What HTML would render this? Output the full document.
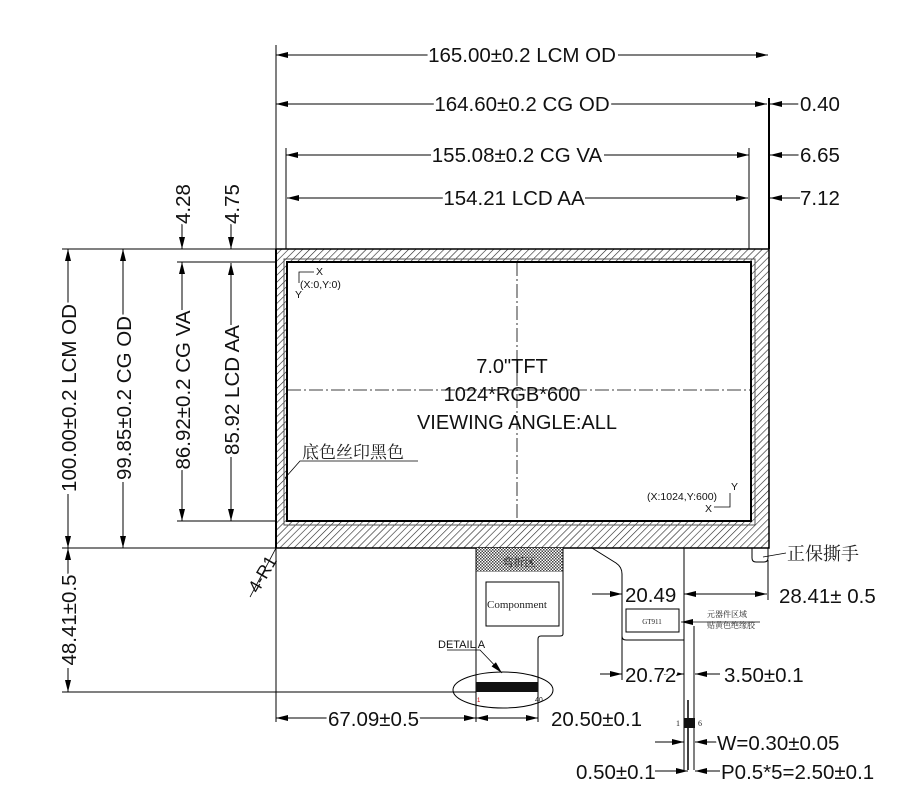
<!DOCTYPE html>
<html><head><meta charset="utf-8"><style>
html,body{margin:0;padding:0;background:#fff;}
svg{display:block;font-family:"Liberation Sans","Noto Sans CJK SC",sans-serif;}
.d{font-size:20.5px;fill:#111;stroke:#fff;stroke-width:5px;paint-order:stroke;}
.s{font-family:"Liberation Serif","Noto Serif CJK SC",serif;}
</style></head><body>
<svg width="909" height="800" viewBox="0 0 909 800" xmlns="http://www.w3.org/2000/svg">
<defs>
<pattern id="h" width="5" height="5" patternUnits="userSpaceOnUse" patternTransform="rotate(45)">
<rect width="5" height="5" fill="#fff"/><line x1="0" y1="0" x2="0" y2="5" stroke="#222" stroke-width="1.2"/></pattern>
<pattern id="dt" width="3" height="3" patternUnits="userSpaceOnUse"><rect width="3" height="3" fill="#fff"/><rect width="1.5" height="1.5" fill="#444"/><rect x="1.5" y="1.5" width="1.5" height="1.5" fill="#444"/></pattern>
<marker id="a" viewBox="0 0 12 6" refX="12" refY="3" markerWidth="13" markerHeight="6" orient="auto-start-reverse" markerUnits="userSpaceOnUse"><path d="M0,0L12,3L0,6z" fill="#000"/></marker>
</defs>
<g stroke="#000" stroke-width="1" fill="none">
<line x1="276" y1="45" x2="276" y2="722"/>
<line x1="286" y1="148" x2="286" y2="262"/>
<line x1="769" y1="98" x2="769" y2="249" stroke-width="2"/>
<line x1="749" y1="148" x2="749" y2="262"/>
<line x1="62" y1="249" x2="276" y2="249"/>
<line x1="177" y1="262" x2="276" y2="262"/>
<line x1="177" y1="521" x2="276" y2="521"/>
<line x1="62" y1="548" x2="276" y2="548"/>
<line x1="62" y1="692" x2="476" y2="692"/>
<line x1="276" y1="55" x2="768" y2="55" marker-start="url(#a)" marker-end="url(#a)"/>
<line x1="276" y1="104" x2="767" y2="104" marker-start="url(#a)" marker-end="url(#a)"/>
<line x1="800" y1="104" x2="770" y2="104" marker-end="url(#a)"/>
<line x1="286" y1="155" x2="749" y2="155" marker-start="url(#a)" marker-end="url(#a)"/>
<line x1="800" y1="155" x2="770" y2="155" marker-end="url(#a)"/>
<line x1="287" y1="198" x2="748" y2="198" marker-start="url(#a)" marker-end="url(#a)"/>
<line x1="800" y1="198" x2="770" y2="198" marker-end="url(#a)"/>
<line x1="68" y1="249" x2="68" y2="548" marker-start="url(#a)" marker-end="url(#a)"/>
<line x1="123" y1="249" x2="123" y2="548" marker-start="url(#a)" marker-end="url(#a)"/>
<line x1="182" y1="215" x2="182" y2="249" marker-end="url(#a)"/>
<line x1="182" y1="262" x2="182" y2="521" marker-start="url(#a)" marker-end="url(#a)"/>
<line x1="231" y1="215" x2="231" y2="249" marker-end="url(#a)"/>
<line x1="231" y1="263" x2="231" y2="521" marker-start="url(#a)" marker-end="url(#a)"/>
<line x1="68" y1="548" x2="68" y2="692" marker-start="url(#a)" marker-end="url(#a)"/>
</g>
<rect x="276" y="249" width="493" height="299" fill="url(#h)" stroke="#000" stroke-width="1.5"/>
<rect x="284" y="259" width="471" height="266" fill="none" stroke="#555" stroke-width="1"/>
<rect x="287" y="262" width="464" height="259" fill="#fff" stroke="#000" stroke-width="2"/>
<line x1="276" y1="249" x2="276" y2="548" stroke="#000" stroke-width="2"/>
<g stroke="#000" stroke-width="0.8" stroke-dasharray="14,3,2,3">
<line x1="517" y1="262" x2="517" y2="521"/><line x1="287" y1="390" x2="751" y2="390"/></g>
<g font-size="20" fill="#111" text-anchor="middle">
<text x="512" y="373">7.0"TFT</text><text x="512" y="401">1024*RGB*600</text><text x="517" y="429">VIEWING ANGLE:ALL</text></g>
<g stroke="#000" stroke-width="0.8" fill="none">
<polyline points="299,283 299,272 314,272"/><polyline points="730,493 730,507 714,507"/></g>
<g font-size="10.5" fill="#111"><text x="316" y="275">X</text><text x="300" y="288">(X:0,Y:0)</text><text x="295" y="298">Y</text>
<text x="647" y="500">(X:1024,Y:600)</text><text x="731" y="490">Y</text><text x="705" y="512">X</text></g>
<text x="302" y="458" font-size="17" class="s" fill="#222">底色丝印黑色</text>
<g stroke="#000" stroke-width="0.8" fill="none"><polyline points="418,461 300,461 285,478"/>
<line x1="276" y1="548" x2="250" y2="597"/></g>
<text transform="translate(258,594) rotate(-60)" font-size="18" fill="#111">4-R1</text>
<path d="M752,548 V558 Q752,562 756,562 H764 Q768,562 768,558 V548" fill="none" stroke="#000"/>
<line x1="763" y1="557" x2="786" y2="553" stroke="#000" stroke-width="0.8"/>
<text x="787" y="560" font-size="18" class="s" fill="#222">正保撕手</text>
<rect x="476" y="548" width="87" height="24" fill="url(#dt)"/>
<text x="519" y="566" font-size="11" class="s" text-anchor="middle" fill="#222">弯折区</text>
<path d="M476,548 V692 M563,548 V634 Q563,636 560,636 H541 Q538,636 538,639 V692" fill="none" stroke="#000"/>
<rect x="486" y="582" width="73" height="44" fill="none" stroke="#000"/>
<text x="487" y="608" font-size="11" class="s" fill="#222">Componment</text>
<rect x="476" y="682" width="62" height="10" fill="#111"/>
<text x="477" y="702" font-size="6" fill="#c00">1</text><text x="535" y="702" font-size="7" fill="#222">40</text>
<ellipse cx="503" cy="690" rx="50" ry="18" fill="none" stroke="#000"/>
<text x="438" y="648" font-size="11" fill="#111">DETAIL  A</text>
<polyline points="447,650 480,650 502,673" fill="none" stroke="#000" stroke-width="0.8" marker-end="url(#a)"/>
<path d="M592,548 L616,563 Q622,567 622,574 V636 Q622,640 626,640 H684 M684,548 V770" fill="none" stroke="#000"/>
<line x1="694" y1="626" x2="694" y2="770" stroke="#000"/>
<line x1="688" y1="700" x2="688" y2="770" stroke="#000" stroke-width="1.5"/>
<rect x="626" y="609" width="53" height="23" fill="none" stroke="#000"/>
<text x="652" y="624" font-size="7" class="s" text-anchor="middle" fill="#222">GT911</text>
<line x1="760" y1="622" x2="681" y2="622" stroke="#000" stroke-width="0.8" marker-end="url(#a)"/>
<text x="707" y="617" font-size="8" class="s" fill="#222">元器件区域</text>
<text x="707" y="628" font-size="8" class="s" fill="#222">贴黄色绝缘胶</text>
<rect x="684" y="718" width="11" height="10" fill="#111"/>
<text x="676" y="726" font-size="8" class="s" fill="#222">1</text><text x="698" y="726" font-size="8" class="s" fill="#222">6</text>
<g stroke="#000" stroke-width="1" fill="none">
<line x1="622" y1="574" x2="622" y2="680"/>
<line x1="768" y1="560" x2="768" y2="600"/>
<line x1="538" y1="692" x2="538" y2="722"/><line x1="476" y1="692" x2="476" y2="722"/>
<line x1="592" y1="594" x2="622" y2="594" marker-end="url(#a)"/>
<line x1="684" y1="594" x2="767" y2="594" marker-start="url(#a)" marker-end="url(#a)"/>
<line x1="600" y1="674" x2="622" y2="674" marker-end="url(#a)"/>
<line x1="660" y1="674" x2="684" y2="674" marker-end="url(#a)"/>
<line x1="720" y1="674" x2="695" y2="674" marker-end="url(#a)"/>
<line x1="276" y1="718" x2="476" y2="718" marker-start="url(#a)" marker-end="url(#a)"/>
<line x1="476" y1="718" x2="538" y2="718" marker-start="url(#a)" marker-end="url(#a)"/>
<line x1="655" y1="742" x2="684" y2="742" marker-end="url(#a)"/>
<line x1="720" y1="742" x2="695" y2="742" marker-end="url(#a)"/>
<line x1="655" y1="771" x2="688" y2="771" marker-end="url(#a)"/>
<line x1="720" y1="771" x2="695" y2="771" marker-end="url(#a)"/>
</g>
<!-- white backings -->
<g fill="#fff">
<rect x="428" y="46" width="190" height="18"/>
<rect x="434" y="95" width="176" height="18"/>
<rect x="431" y="146" width="173" height="18"/>
<rect x="443" y="189" width="142" height="18"/>
<rect x="327" y="709" width="92" height="18"/>
<rect x="67" y="304" width="18" height="190"/>
<rect x="122" y="316" width="18" height="166"/>
<rect x="181" y="310" width="18" height="160"/>
<rect x="230" y="325" width="18" height="132"/>
<rect x="67" y="574" width="18" height="94"/>
</g>
<g>
<text x="522" y="62" text-anchor="middle" class="d">165.00±0.2 LCM OD</text>
<text x="522" y="111" text-anchor="middle" class="d">164.60±0.2 CG OD</text>
<text x="517" y="162" text-anchor="middle" class="d">155.08±0.2  CG VA</text>
<text x="514" y="205" text-anchor="middle" class="d">154.21 LCD  AA</text>
<text x="800" y="111" class="d">0.40</text><text x="800" y="162" class="d">6.65</text><text x="800" y="205" class="d">7.12</text>
<text x="779" y="603" class="d">28.41± 0.5</text>
<text x="625" y="602" class="d">20.49</text><text x="625" y="682" class="d">20.72</text><text x="724" y="682" class="d">3.50±0.1</text>
<text x="328" y="726" class="d">67.09±0.5</text>
<text x="551" y="726" class="d">20.50±0.1</text>
<text x="717" y="750" class="d">W=0.30±0.05</text>
<text x="576" y="779" class="d">0.50±0.1</text><text x="721" y="779" class="d">P0.5*5=2.50±0.1</text>
<text transform="translate(76,398) rotate(-90)" text-anchor="middle" class="d">100.00±0.2 LCM OD</text>
<text transform="translate(131,398) rotate(-90)" text-anchor="middle" class="d">99.85±0.2 CG OD</text>
<text transform="translate(190,390) rotate(-90)" text-anchor="middle" class="d">86.92±0.2 CG VA</text>
<text transform="translate(239,390) rotate(-90)" text-anchor="middle" class="d">85.92 LCD AA</text>
<text transform="translate(190,224) rotate(-90)" class="d">4.28</text>
<text transform="translate(239,224) rotate(-90)" class="d">4.75</text>
<text transform="translate(76,620) rotate(-90)" text-anchor="middle" class="d">48.41±0.5</text>
</g>
</svg>
</body></html>
